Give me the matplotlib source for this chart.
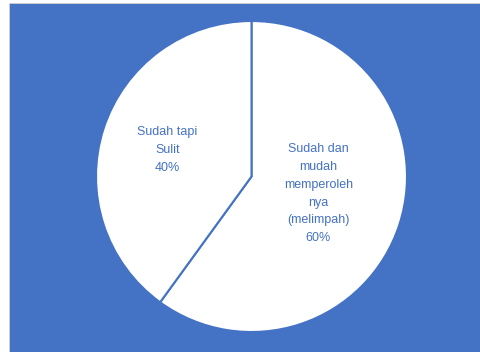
import matplotlib.pyplot as plt
from matplotlib.patches import Rectangle

# answer categories and their shares (%)
labels = ["Sudah dan\nmudah\nmemperoleh\nnya\n(melimpah)", "Sudah tapi\nSulit"]
values = [60, 40]

blue = "#4472C4"

fig = plt.figure(figsize=(4.81, 3.52), dpi=100)
fig.patch.set_facecolor("white")

# blue chart area, slightly inset from the left and top
fig.patches.append(Rectangle((9 / 481, 0), 1 - 9 / 481, 349 / 352,
                             transform=fig.transFigure, facecolor=blue,
                             edgecolor="#d0d0d0", linewidth=0.6, zorder=-10))

ax = fig.add_axes([96 / 481, 20 / 352, 311 / 481, 311 / 352])
ax.set_zorder(5)
wedges, _ = ax.pie(values, startangle=90, counterclock=False,
                   colors=["white", "white"],
                   wedgeprops=dict(edgecolor=blue, linewidth=1.5))
ax.set_xlim(-1, 1)
ax.set_ylim(-1, 1)
ax.axis("off")

# data labels inside each slice
label_pos = [(0.43, -0.11), (-0.54, 0.17)]
for lab, val, (x, y) in zip(labels, values, label_pos):
    ax.text(x, y, f"{lab}\n{val}%", ha="center", va="center",
            color=blue, fontsize=9, family="Liberation Sans",
            linespacing=1.65)

fig.savefig("out.png", dpi=100, facecolor=fig.get_facecolor())
